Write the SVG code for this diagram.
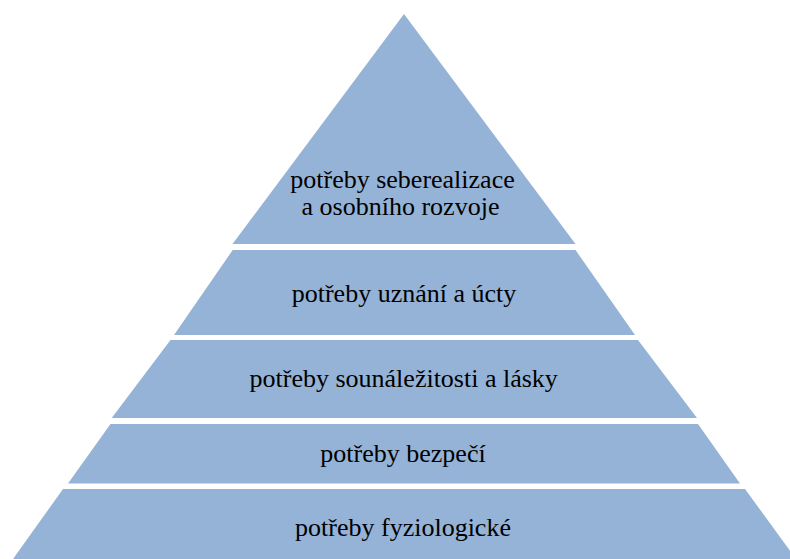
<svg xmlns="http://www.w3.org/2000/svg" width="790" height="559" viewBox="0 0 790 559">
<style>
.lvl{fill:#95B3D7;stroke:none}
.t{font-family:'Liberation Serif','Times New Roman',serif;font-size:26px;fill:#000;text-anchor:middle}
</style>
<rect width="790" height="559" fill="#fff"/>
<g id="level5">
<polygon class="lvl" points="404,14 575.5,244 232.5,244"/>
<text class="t" x="402.5" y="188">potřeby seberealizace</text>
<text class="t" x="400.5" y="215">a osobního rozvoje</text>
</g>
<g id="level4">
<polygon class="lvl" points="232.7,250 575.5,250 635,335 174,335"/>
<text class="t" x="404" y="301.7">potřeby uznání a úcty</text>
</g>
<g id="level3">
<polygon class="lvl" points="170.5,340 638,340 697,418 111.7,418"/>
<text class="t" x="403.7" y="386.7">potřeby sounáležitosti a lásky</text>
</g>
<g id="level2">
<polygon class="lvl" points="110.5,424 698,424 740,483.5 68,483.5"/>
<text class="t" x="403" y="461.7">potřeby bezpečí</text>
</g>
<g id="level1">
<polygon class="lvl" points="63,489 745,489 796,559 13,559"/>
<text class="t" x="403" y="535.7">potřeby fyziologické</text>
</g>
<g id="connectors"/>
</svg>
